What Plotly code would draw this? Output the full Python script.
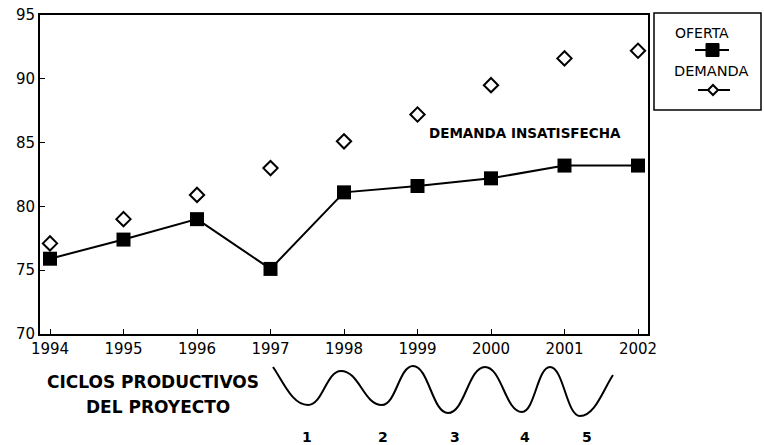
import plotly.graph_objects as go

years = [1994, 1995, 1996, 1997, 1998, 1999, 2000, 2001, 2002]
oferta = [75.9, 77.4, 79.0, 75.1, 81.1, 81.6, 82.2, 83.2, 83.2]
demanda = [77.1, 79.0, 80.9, 83.0, 85.1, 87.2, 89.5, 91.6, 92.2]
y_ticks = [70, 75, 80, 85, 90, 95]
ciclos = ["1", "2", "3", "4", "5"]

W, H = 764, 445
L, R, T, B = 40, 648, 15, 334  # plot area in window pixels


def px(x):
    return (x - L) / (R - L)


def py(y):
    return (B - y) / (B - T)


fig = go.Figure()
fig.add_trace(go.Scatter(
    x=years, y=oferta, mode="lines+markers", name="OFERTA",
    line=dict(color="black", width=2),
    marker=dict(symbol="square", size=14, color="black"),
    showlegend=False))
fig.add_trace(go.Scatter(
    x=years, y=demanda, mode="markers", name="DEMANDA",
    marker=dict(symbol="diamond-open", size=11, color="black",
                line=dict(width=2, color="black")),
    showlegend=False))

shapes = []
annotations = []


def text(x, y, s, size, family="DejaVu Sans"):
    annotations.append(dict(xref="paper", yref="paper", x=px(x), y=py(y),
                            xanchor="center", yanchor="middle",
                            text=s, showarrow=False,
                            font=dict(family=family, size=size, color="black")))


# custom legend box
shapes.append(dict(type="rect", xref="paper", yref="paper",
                   x0=px(654), x1=px(761), y0=py(110), y1=py(13),
                   line=dict(color="black", width=1.5)))
text(702, 33, "OFERTA", 14)
shapes.append(dict(type="line", xref="paper", yref="paper",
                   x0=px(695), x1=px(729), y0=py(50), y1=py(50),
                   line=dict(color="black", width=2)))
shapes.append(dict(type="rect", xref="paper", yref="paper",
                   x0=px(706), x1=px(719), y0=py(56.5), y1=py(43.5),
                   fillcolor="black", line=dict(color="black", width=1)))
text(711, 71, "DEMANDA", 14.5)
shapes.append(dict(type="line", xref="paper", yref="paper",
                   x0=px(698), x1=px(708), y0=py(90), y1=py(90),
                   line=dict(color="black", width=2)))
shapes.append(dict(type="line", xref="paper", yref="paper",
                   x0=px(718), x1=px(730), y0=py(90), y1=py(90),
                   line=dict(color="black", width=2)))
d = [(708, 90), (713, 85), (718, 90), (713, 95)]
path = "M " + " L ".join(f"{px(a)},{py(b)}" for a, b in d) + " Z"
shapes.append(dict(type="path", xref="paper", yref="paper", path=path,
                   line=dict(color="black", width=2)))

# annotation in plot
text(525, 133, "<b>DEMANDA INSATISFECHA</b>", 13.5)

# ciclos productivos label
text(153, 382, "<b>CICLOS PRODUCTIVOS</b>", 17)
text(158, 407, "<b>DEL PROYECTO</b>", 17)

# wave decoration
pts = [(273, 367), (308, 405), (341, 371), (382, 405), (413, 366), (448, 413),
       (485, 367), (522, 412), (550, 367), (580, 416), (613, 375)]
segs = [f"M {px(pts[0][0])},{py(pts[0][1])}"]
for i in range(len(pts) - 1):
    x0, y0 = pts[i]
    x1, y1 = pts[i + 1]
    dx = x1 - x0
    if i == 0:
        c1 = (x0 + dx * 0.3, y0 + (y1 - y0) * 0.4)
    else:
        c1 = (x0 + dx * 0.45, y0)
    if i == len(pts) - 2:
        c2 = (x1 - dx * 0.3, y1 + 15)
    else:
        c2 = (x1 - dx * 0.45, y1)
    segs.append(f"C {px(c1[0])},{py(c1[1])} {px(c2[0])},{py(c2[1])} {px(x1)},{py(y1)}")
shapes.append(dict(type="path", xref="paper", yref="paper", path=" ".join(segs),
                   line=dict(color="black", width=2)))

label_x = [307, 383, 455, 525, 587]
for lab, lx in zip(ciclos, label_x):
    text(lx, 437, f"<b>{lab}</b>", 14)

fig.update_layout(
    width=W, height=H,
    margin=dict(l=L, r=W - R, t=T, b=H - B, pad=0, autoexpand=False),
    paper_bgcolor="white", plot_bgcolor="white",
    shapes=shapes, annotations=annotations,
    font=dict(family="DejaVu Sans", size=15, color="black"),
    xaxis=dict(range=[1993.864, 2002.136], tickvals=years,
               ticks="inside", ticklen=5, tickwidth=1, tickcolor="black",
               showline=True, linecolor="black", linewidth=2, mirror=True,
               showgrid=False, zeroline=False, tickfont=dict(size=15)),
    yaxis=dict(range=[70, 95], tickvals=y_ticks,
               ticks="inside", ticklen=5, tickwidth=1, tickcolor="black",
               showline=True, linecolor="black", linewidth=2, mirror=True,
               showgrid=False, zeroline=False, tickfont=dict(size=15)),
)

fig.write_html("out.html", config={"displayModeBar": False},
               post_script="document.body.style.margin='0';")
